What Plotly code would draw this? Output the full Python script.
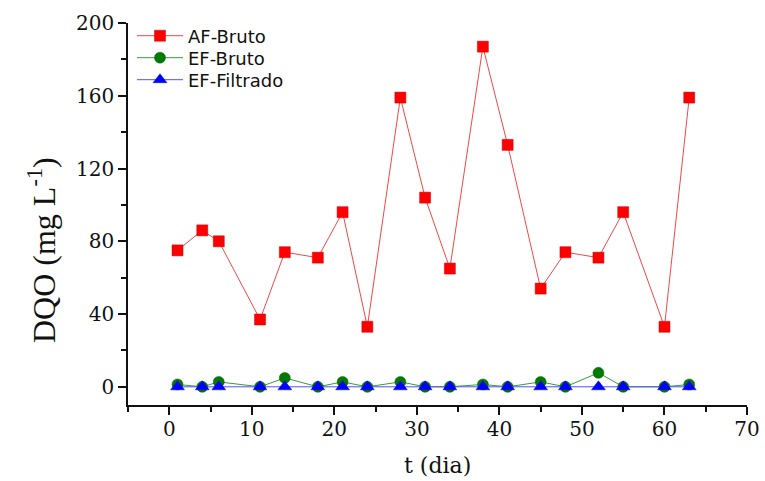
import plotly.graph_objects as go

days = [1, 4, 6, 11, 14, 18, 21, 24, 28, 31, 34, 38, 41, 45, 48, 52, 55, 60, 63]
af_bruto = [75, 86, 80, 37, 74, 71, 96, 33, 159, 104, 65, 187, 133, 54, 74, 71, 96, 33, 159]
ef_bruto = [1.3, 0, 2.7, 0, 4.9, 0, 2.7, 0, 2.7, 0, 0, 1.3, 0, 2.7, 0, 7.7, 0, 0, 1.3]
ef_filtrado = [0, 0, 0, 0, 0, 0, 0, 0, 0, 0, 0, 0, 0, 0, 0, 0, 0, 0, 0]

fig = go.Figure()
fig.add_trace(go.Scatter(
    x=days, y=af_bruto, name="AF-Bruto", mode="lines+markers", legend="legend",
    line=dict(color="#f04848", width=1),
    marker=dict(symbol="square", size=11, color="#ff0000", line=dict(color="#d00000", width=0.5)),
))
fig.add_trace(go.Scatter(
    x=days, y=ef_bruto, name="EF-Bruto", mode="lines+markers", legend="legend2",
    line=dict(color="#3a9a3a", width=1),
    marker=dict(symbol="circle", size=11, color="#007a00", line=dict(color="#006000", width=0.5)),
))
fig.add_trace(go.Scatter(
    x=days, y=ef_filtrado, name="EF-Filtrado", mode="lines+markers", legend="legend3",
    line=dict(color="#5050ff", width=1),
    marker=dict(symbol="triangle-up", size=12, color="#0000ff", line=dict(color="#0000d0", width=0.5)),
))

serif = "DejaVu Serif, serif"
times = "Liberation Serif, Times New Roman, serif"
legfont = dict(family="DejaVu Sans, Arial, sans-serif", size=18, color="#111")


def leg(ypix):
    return dict(x=(132 - 128) / 619, y=(405 - ypix) / 382, xanchor="left", yanchor="middle",
                font=legfont, bgcolor="rgba(0,0,0,0)", itemwidth=46)


fig.update_layout(
    width=765, height=481,
    margin=dict(l=128, r=18, t=23, b=76, autoexpand=False),
    paper_bgcolor="white", plot_bgcolor="white",
    showlegend=True,
    legend=leg(36), legend2=leg(58), legend3=leg(80),
    font=dict(family=serif, color="#111"),
)
fig.update_xaxes(
    range=[-5, 70], tickvals=[0, 10, 20, 30, 40, 50, 60, 70],
    ticks="outside", ticklen=8, tickwidth=1.5, tickcolor="#111",
    showline=True, linecolor="#111", linewidth=1.5,
    showgrid=False, zeroline=False, automargin=False, ticklabelstandoff=-3,
    minor=dict(dtick=5, tick0=0, ticks="outside", ticklen=5, tickwidth=1.5, tickcolor="#111", showgrid=False),
    tickfont=dict(family=serif, size=20),
)
fig.update_yaxes(
    range=[-10, 200], tickvals=[0, 40, 80, 120, 160, 200],
    ticks="outside", ticklen=8, tickwidth=1.5, tickcolor="#111",
    showline=True, linecolor="#111", linewidth=1.5,
    showgrid=False, zeroline=False, automargin=False,
    minor=dict(dtick=20, tick0=0, ticks="outside", ticklen=5, tickwidth=1.5, tickcolor="#111", showgrid=False),
    tickfont=dict(family=serif, size=20),
)
fig.add_annotation(text="t (dia)", xref="paper", yref="paper", x=0.5, y=(405 - 465) / 382,
                   xanchor="center", yanchor="middle", showarrow=False,
                   font=dict(family=serif, size=22, color="#111"))
fig.add_annotation(text="DQO (mg L<sup>-1</sup>)", xref="paper", yref="paper",
                   x=(42 - 128) / 619, y=(405 - 250) / 382, textangle=-90,
                   xanchor="center", yanchor="middle", showarrow=False,
                   font=dict(family=times, size=32, color="#111"))

fig.write_html("out.html")
